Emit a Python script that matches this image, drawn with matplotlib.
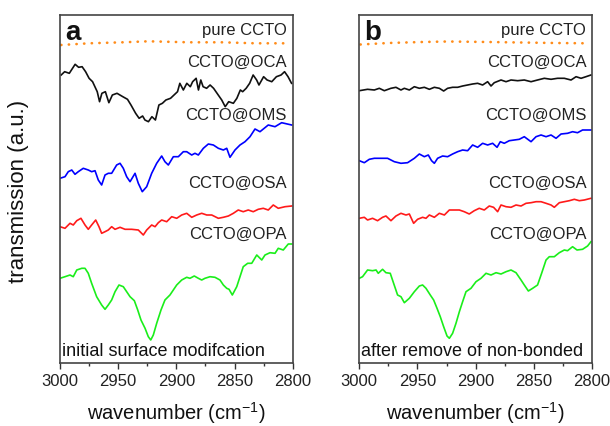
import matplotlib
matplotlib.use("Agg")
import matplotlib.pyplot as plt
from matplotlib.ticker import MultipleLocator

plt.rcParams['font.family'] = ['Liberation Sans', 'DejaVu Sans']
plt.rcParams['mathtext.fontset'] = 'custom'
plt.rcParams['mathtext.rm'] = 'Liberation Sans'
plt.rcParams['mathtext.default'] = 'regular'

# ---------------- panel a: initial surface modification ----------------
a_pure_wn = [2999, 2975, 2946, 2924, 2889, 2861, 2832, 2804]
a_pure_t = [319, 320.7, 321.7, 322.7, 321.7, 321.7, 320.7, 320.7]

a_oca_wn = [2999, 2996, 2992, 2987, 2984, 2981, 2978, 2975, 2972, 2968, 2966, 2964, 2961, 2958, 2955,
            2951, 2946, 2942, 2939, 2935, 2932, 2929, 2927, 2924, 2921, 2918, 2915, 2912, 2909, 2905,
            2902, 2899, 2897, 2894, 2891, 2888, 2886, 2883, 2881, 2879, 2877, 2874, 2871, 2868, 2864,
            2861, 2858, 2855, 2851, 2848, 2845, 2843, 2840, 2837, 2834, 2831, 2829, 2825, 2822, 2818,
            2814, 2810, 2807, 2804, 2801]
a_oca_t = [289, 292.3, 290.7, 299.7, 296.7, 297.3, 292.3, 285.7, 282.3, 272.3, 262.3, 270.7, 272.3, 261.3,
           269, 270.7, 267.3, 264.7, 259, 250.7, 245.7, 248, 244, 242.3, 247.3, 244, 259, 260.7, 264,
           265.7, 269, 272.3, 280.7, 274, 280.7, 277.3, 282.3, 285.7, 274, 284, 277.3, 275.7, 279, 275.7,
           269, 264, 257.3, 262.3, 260.7, 265.7, 274, 272.3, 275.7, 280.7, 289, 284, 279, 287.3, 284,
           282.3, 287.3, 289, 292.3, 287.3, 280.7]

a_oms_wn = [3000, 2995.7, 2992.9, 2989.9, 2987.1, 2984.3, 2980.0, 2975.7, 2972.8, 2969.9, 2967.1, 2964.2,
            2961.3, 2958.5, 2955.6, 2951.3, 2948.4, 2945.6, 2942.7, 2939.8, 2935.5, 2932.7, 2929.3, 2925.5,
            2921.2, 2916.9, 2912.6, 2909.8, 2906.9, 2902.6, 2898.3, 2894.0, 2891.1, 2886.8, 2884.0, 2881.1,
            2876.8, 2872.5, 2868.2, 2863.9, 2859.6, 2856.7, 2853.9, 2849.6, 2845.3, 2841.0, 2836.7, 2832.4,
            2828.1, 2821.0, 2815.2, 2809.5, 2800.9]
a_oms_t = [185.7, 187.3, 192.3, 194, 189.7, 192.3, 195.7, 194, 192.3, 193.3, 184, 179, 189, 190.7, 190.7,
           199, 200.7, 195.7, 187.3, 182.3, 190.7, 180.7, 172.3, 177.3, 190.7, 200.7, 208, 202.3, 199,
           207.3, 207.3, 212.3, 212.3, 209, 210.7, 209, 215.7, 220, 219, 215.7, 214, 215.7, 206.7, 214,
           219, 222.3, 227.3, 235, 232.3, 239, 237.3, 241.3, 239]

a_osa_wn = [3000, 2995.7, 2991.4, 2988.6, 2985.6, 2982.0, 2978.5, 2975.7, 2972.8, 2969.3, 2966.5, 2964.2,
            2961.3, 2958.5, 2955.6, 2952.7, 2948.4, 2944.1, 2938.4, 2932.7, 2928.4, 2925.5, 2921.2, 2918.3,
            2915.5, 2912.6, 2908.3, 2904.0, 2899.7, 2895.4, 2891.1, 2886.8, 2882.5, 2878.2, 2873.9, 2869.6,
            2863.9, 2859.6, 2855.3, 2851.0, 2846.8, 2842.5, 2838.2, 2833.9, 2829.6, 2825.3, 2821.0, 2816.7,
            2812.4, 2806.6, 2800.9]
a_osa_t = [137.3, 135.7, 140.7, 139, 143.3, 145.7, 139, 134.7, 139, 144, 137.3, 130.7, 132.3, 134, 137.3,
           134.7, 136.7, 134.7, 134.7, 134, 129, 134, 139, 137.3, 141.3, 144, 142.3, 147.3, 145.7, 149,
           150.7, 146.7, 149, 150.7, 149, 149, 145.7, 146.7, 148, 150.7, 154, 152.3, 154, 152.3, 154.7,
           155.7, 154, 159, 155.7, 157.3, 158]

a_opa_wn = [3000.0, 2995.7, 2991.4, 2988.6, 2985.6, 2981.3, 2978.5, 2975.7, 2972.8, 2968.5, 2964.2, 2961.3,
            2958.5, 2955.6, 2952.7, 2949.3, 2945.6, 2942.7, 2939.8, 2936.1, 2933.2, 2930.4, 2926.9, 2924.1,
            2922.0, 2919.8, 2916.9, 2913.2, 2909.8, 2905.5, 2902.6, 2899.7, 2895.4, 2891.1, 2888.3, 2884.6,
            2881.1, 2878.2, 2875.4, 2871.1, 2866.8, 2862.5, 2859.6, 2856.7, 2854.7, 2851.9, 2848.1, 2845.3,
            2842.5, 2838.7, 2835.2, 2830.9, 2826.6, 2823.8, 2819.5, 2815.2, 2812.4, 2808.1, 2803.8, 2800.9]
a_opa_t = [85.7, 87.3, 89, 87.3, 94, 95.7, 95.7, 90.7, 80.7, 67.3, 59, 54.7, 59, 64, 72.3, 79, 77.3, 72.3,
           67.3, 63.3, 54, 44, 35.7, 27.3, 24, 29, 40.7, 54, 64, 69, 74, 79, 84, 86.7, 85.7, 88, 85.7, 84,
           85.7, 87.3, 86.7, 84, 79, 75.7, 74.7, 69, 77.3, 87.3, 97.3, 100.7, 100.7, 109, 104, 109, 111.3,
           110.7, 115.7, 114, 120, 120]

# ---------------- panel b: after removal of non-bonded ----------------
b_pure_wn = [2999, 2975, 2946, 2924, 2889, 2861, 2832, 2804]
b_pure_t = [319.5, 321, 322, 322.5, 322, 321.5, 321, 320.7]

b_oca_wn = [3000, 2992.9, 2987.1, 2982.8, 2978.5, 2972.8, 2968.5, 2964.2, 2961.3, 2957.0, 2952.7, 2948.4,
            2944.1, 2939.8, 2935.5, 2931.2, 2927.5, 2924.1, 2919.8, 2915.5, 2911.2, 2906.9, 2902.6, 2898.3,
            2894.0, 2889.7, 2886.8, 2884.0, 2878.2, 2873.9, 2869.6, 2863.9, 2858.2, 2852.4, 2846.8, 2841.0,
            2835.2, 2829.6, 2823.8, 2818.0, 2813.7, 2809.4, 2805.2, 2800.9]
b_oca_t = [273.3, 274.7, 274, 275.7, 273.3, 275.7, 276.7, 274, 275.7, 274, 277.3, 275.7, 276.7, 274.7,
           276.7, 275.7, 273, 275.7, 276.7, 276.7, 278, 279, 280, 280.7, 279, 282.3, 278, 281.3, 284,
           282.3, 284, 283.3, 284, 282.3, 284, 285.7, 284.7, 285.7, 285.7, 284, 287.3, 285.7, 287.3, 289]

b_oms_wn = [3000, 2995.7, 2991.4, 2987.1, 2981.3, 2975.7, 2969.9, 2964.2, 2958.5, 2952.7, 2948.4, 2944.1,
            2940.7, 2937.9, 2935.5, 2932.7, 2928.4, 2924.1, 2919.8, 2915.5, 2911.2, 2906.9, 2902.6, 2898.3,
            2894.0, 2889.7, 2885.4, 2881.6, 2878.8, 2875.4, 2871.1, 2866.8, 2862.5, 2858.2, 2852.4, 2848.1,
            2843.8, 2839.5, 2835.2, 2830.9, 2826.6, 2821.0, 2816.7, 2812.4, 2808.1, 2800.9]
b_oms_t = [203.3, 201.3, 204.7, 205.7, 205.7, 205.7, 202.3, 200.7, 201.3, 205.7, 210, 207.3, 209, 203.3,
           200.7, 205.7, 208, 207.3, 210, 212.3, 214, 213.3, 219, 216.7, 220.7, 219, 220.7, 216.7, 222.3,
           220.7, 223.3, 224, 224.7, 227.3, 222.3, 227.3, 229, 227.3, 229, 225.7, 230, 230.7, 232.3, 231.3,
           234, 234]

b_osa_wn = [3000, 2995.7, 2992.9, 2988.6, 2984.3, 2980.0, 2977.1, 2972.8, 2968.5, 2964.2, 2959.9, 2957.0,
            2953.3, 2949.9, 2945.6, 2942.7, 2939.8, 2935.5, 2931.2, 2926.9, 2922.6, 2918.3, 2914.0, 2909.8,
            2905.5, 2901.2, 2896.9, 2892.6, 2888.3, 2884.6, 2881.1, 2878.2, 2873.9, 2869.6, 2865.3, 2861.0,
            2856.7, 2852.4, 2848.1, 2843.8, 2839.5, 2835.2, 2832.4, 2828.1, 2823.8, 2819.5, 2815.2, 2810.9,
            2806.6, 2800.9]
b_osa_t = [145.7, 146.7, 144, 145.7, 143.3, 146.7, 148, 143.3, 148, 150.7, 149, 150, 140.7, 144.7, 146.7,
           145.7, 149, 146.7, 150.7, 149, 154, 154, 154, 152.3, 150, 153.3, 155.7, 154, 158, 156.7, 152.3,
           159, 157.3, 156.7, 159, 158, 160.7, 161.3, 162.3, 162.3, 160.7, 159, 156.7, 161.3, 162.3, 163.3,
           164.7, 163.3, 164, 165.7]

b_opa_wn = [3000, 2997.2, 2992.9, 2988.6, 2985.6, 2983.7, 2980.0, 2977.1, 2973.4, 2970.5, 2967.1, 2964.2,
            2961.3, 2957.0, 2952.7, 2948.4, 2945.6, 2942.7, 2939.0, 2936.1, 2933.2, 2930.4, 2927.5, 2924.6,
            2922.6, 2919.8, 2916.9, 2914.0, 2911.2, 2908.3, 2904.0, 2899.7, 2895.4, 2891.1, 2886.8, 2882.5,
            2878.2, 2873.9, 2869.6, 2865.3, 2861.0, 2858.2, 2854.7, 2851.0, 2846.8, 2843.3, 2839.5, 2836.7,
            2832.4, 2828.1, 2823.8, 2821.0, 2816.7, 2812.9, 2808.1, 2803.8, 2800.9]
b_opa_t = [85.7, 87.3, 94, 93.3, 94, 90.7, 94.7, 91.3, 90.7, 80.7, 69, 67.3, 61.3, 65.7, 72.3, 78, 79, 75.7,
           69, 64, 55.7, 47.3, 37.3, 28, 25.7, 30.7, 40.7, 52.3, 62.3, 72.3, 75.7, 82.3, 85.7, 90.7, 89,
           91.3, 90, 92.3, 94, 91.3, 84, 79, 73, 75.7, 79, 90.7, 104, 107.3, 107.3, 111.3, 114, 113.3,
           117.3, 114, 114.7, 118, 122.3]

series_names = ["pure CCTO", "CCTO@OCA", "CCTO@OMS", "CCTO@OSA", "CCTO@OPA"]
panel_letters = ["a", "b"]
panel_notes = ["initial surface modifcation", "after remove of non-bonded"]
xticks = [3000, 2950, 2900, 2850, 2800]

panels = [
    [(a_pure_wn, a_pure_t), (a_oca_wn, a_oca_t), (a_oms_wn, a_oms_t), (a_osa_wn, a_osa_t), (a_opa_wn, a_opa_t)],
    [(b_pure_wn, b_pure_t), (b_oca_wn, b_oca_t), (b_oms_wn, b_oms_t), (b_osa_wn, b_osa_t), (b_opa_wn, b_opa_t)],
]

colors = ['#ff8c1a', '#111111', '#0000ff', '#ff1a1a', '#1aee1a']
label_y = [0.941, 0.850, 0.697, 0.501, 0.357]

W, H = 610, 426
fig = plt.figure(figsize=(W / 100, H / 100), dpi=100)

ax_left = [60, 359.3]
ax_w = 232.7
ax_top, ax_bot = 14.5, 362.7
text_col = '#222222'

for i, data in enumerate(panels):
    ax = fig.add_axes([ax_left[i] / W, 1 - ax_bot / H, ax_w / W, (ax_bot - ax_top) / H])
    for j, (wn, t) in enumerate(data):
        if j == 0:
            ax.plot(wn, t, color=colors[j], lw=1.9, linestyle=(0, (0.1, 2.8)),
                    dash_capstyle='round')
        else:
            ax.plot(wn, t, color=colors[j], lw=1.2)
        ax.text(0.9755, label_y[j], series_names[j], transform=ax.transAxes,
                ha='right', va='baseline', fontsize=12, color=text_col)
    ax.set_xlim(3000, 2800)
    ax.set_ylim(1.3, 349.5)
    ax.set_xticks(xticks)
    ax.set_xticklabels([str(v) for v in xticks], fontsize=12, color=text_col)
    ax.xaxis.set_minor_locator(MultipleLocator(25))
    ax.tick_params(axis='x', which='major', direction='out', length=4.2, width=1.0,
                   pad=4, color='#333333')
    ax.tick_params(axis='x', which='minor', direction='out', length=2.4, width=1.0,
                   color='#333333')
    ax.set_yticks([])
    for sp in ax.spines.values():
        sp.set_color('#444444')
        sp.set_linewidth(1.2)
    ax.text(0.0215, 0.927, panel_letters[i], transform=ax.transAxes, ha='left',
            va='baseline', fontsize=20, fontweight='bold', color='#111111')
    ax.text(0.007, 0.019, panel_notes[i], transform=ax.transAxes, ha='left',
            va='baseline', fontsize=13, color='#111111')
    fig.text((ax_left[i] + ax_w / 2) / W, 1 - 413.5 / H, 'wavenumber (cm$^{-1}$)',
             ha='center', va='center', fontsize=14.5, color='#111111')

fig.text(19 / W, 1 - 191 / H, 'transmission (a.u.)', rotation=90, ha='center',
         va='center', fontsize=16, color='#111111')

fig.savefig('out.png', dpi=100)
